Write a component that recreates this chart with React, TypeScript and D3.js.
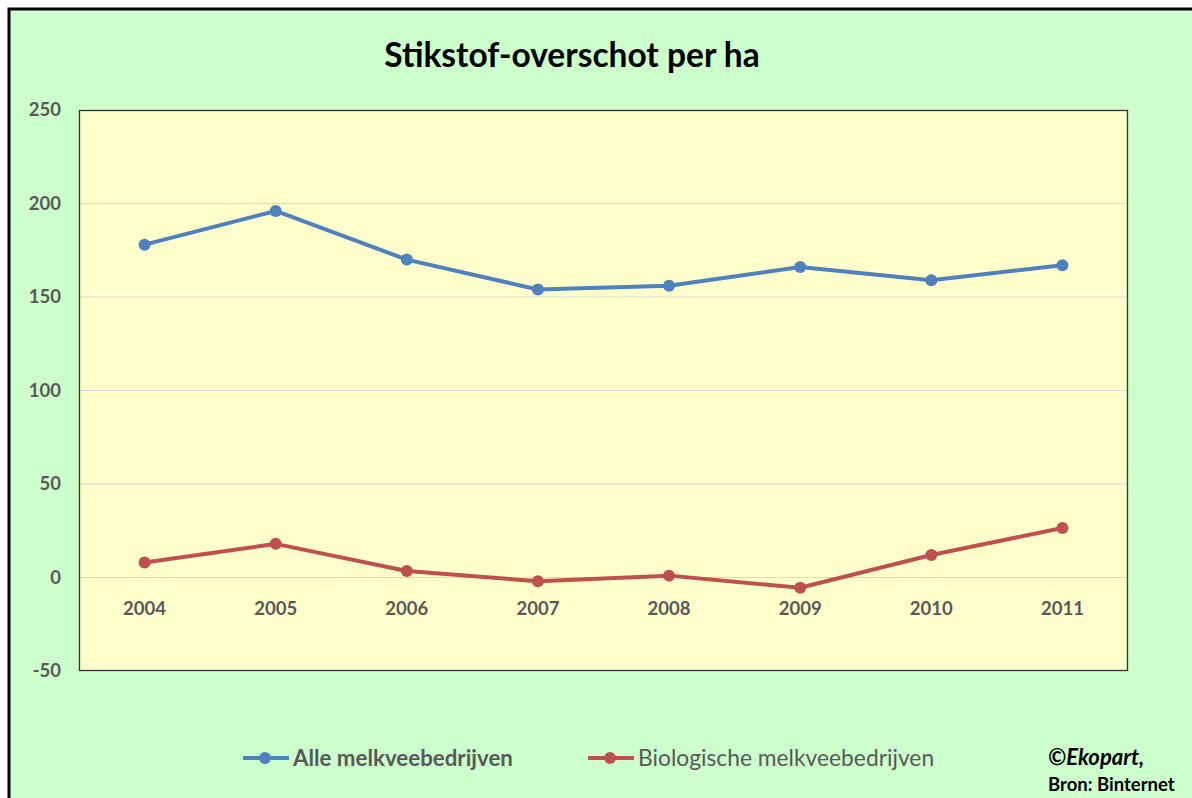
import React, { useEffect, useRef } from 'react';
import * as d3 from 'd3';

const years = ['2004', '2005', '2006', '2007', '2008', '2009', '2010', '2011'];
const alleValues = [178, 196, 170, 154, 156, 166, 159, 167];
const bioValues = [8, 18, 3.5, -2, 1, -5.5, 12, 26.5];
const yTicks = [-50, 0, 50, 100, 150, 200, 250];
const seriesNames = ['Alle melkveebedrijven', 'Biologische melkveebedrijven'];
const seriesColors = ['#4F81BD', '#C0504D'];

const FONT = 'Lato, "Open Sans", sans-serif';

const App = () => {
  const chartRef = useRef(null);

  useEffect(() => {
    const W = 1192;
    const H = 798;
    const plot = { left: 79, top: 110, right: 1128, bottom: 671 };

    d3.select(chartRef.current).selectAll('*').remove();

    const svg = d3
      .select(chartRef.current)
      .append('svg')
      .attr('width', W)
      .attr('height', H)
      .style('display', 'block');

    // outer chart area (clipped on right and bottom)
    svg
      .append('rect')
      .attr('x', 9)
      .attr('y', 9)
      .attr('width', W + 20)
      .attr('height', H + 20)
      .attr('fill', '#CCFFCC')
      .attr('stroke', '#000')
      .attr('stroke-width', 3);

    svg
      .append('text')
      .attr('x', 572)
      .attr('y', 67)
      .attr('text-anchor', 'middle')
      .style('font-size', '33.5px')
      .style('font-family', FONT)
      .style('font-weight', 'bold')
      .style('fill', '#000')
      .text('Stikstof-overschot per ha');

    const x = d3
      .scaleBand()
      .domain(years)
      .range([plot.left, plot.right]);

    const y = d3
      .scaleLinear()
      .domain([-50, 250])
      .range([plot.bottom, plot.top]);

    svg
      .append('rect')
      .attr('x', plot.left)
      .attr('y', plot.top)
      .attr('width', plot.right - plot.left)
      .attr('height', plot.bottom - plot.top)
      .attr('fill', '#FFFFCC');

    // gridlines
    svg
      .append('g')
      .selectAll('line')
      .data(yTicks.filter(t => t !== -50 && t !== 250))
      .enter()
      .append('line')
      .attr('x1', plot.left)
      .attr('x2', plot.right)
      .attr('y1', d => y(d))
      .attr('y2', d => y(d))
      .attr('stroke', '#D9D9D9')
      .attr('stroke-width', 1.2);

    svg
      .append('rect')
      .attr('x', plot.left + 0.5)
      .attr('y', plot.top + 0.5)
      .attr('width', plot.right - plot.left - 1)
      .attr('height', plot.bottom - plot.top - 1)
      .attr('fill', 'none')
      .attr('stroke', '#333')
      .attr('stroke-width', 1.3);

    // y labels
    svg
      .append('g')
      .selectAll('text')
      .data(yTicks)
      .enter()
      .append('text')
      .attr('x', 61)
      .attr('y', d => y(d))
      .attr('dy', '0.35em')
      .attr('text-anchor', 'end')
      .style('font-size', '18.5px')
      .style('font-family', FONT)
      .style('font-weight', 'bold')
      .style('fill', '#595959')
      .text(d => d);

    // x labels
    svg
      .append('g')
      .selectAll('text')
      .data(years)
      .enter()
      .append('text')
      .attr('x', d => x(d) + x.bandwidth() / 2)
      .attr('y', y(0) + 31)
      .attr('dy', '0.35em')
      .attr('text-anchor', 'middle')
      .style('font-size', '18.5px')
      .style('font-family', FONT)
      .style('font-weight', 'bold')
      .style('fill', '#595959')
      .text(d => d);

    const cx = d => x(d) + x.bandwidth() / 2;
    [alleValues, bioValues].forEach((vals, i) => {
      const pts = years.map((yr, j) => [cx(yr), y(vals[j])]);
      svg
        .append('path')
        .attr('d', d3.line()(pts))
        .attr('fill', 'none')
        .attr('stroke', seriesColors[i])
        .attr('stroke-width', 4)
        .attr('stroke-linejoin', 'round');
      svg
        .append('g')
        .selectAll('circle')
        .data(pts)
        .enter()
        .append('circle')
        .attr('cx', d => d[0])
        .attr('cy', d => d[1])
        .attr('r', 6)
        .attr('fill', seriesColors[i]);
    });

    // legend
    const legendX = [243, 588];
    seriesNames.forEach((name, i) => {
      const g = svg.append('g').attr('transform', `translate(${legendX[i]}, 758)`);
      g.append('line')
        .attr('x1', 0)
        .attr('x2', 46)
        .attr('stroke', seriesColors[i])
        .attr('stroke-width', 4);
      g.append('circle').attr('cx', 22).attr('r', 6).attr('fill', seriesColors[i]);
      g.append('text')
        .attr('x', 50)
        .attr('dy', '0.35em')
        .style('font-size', i === 0 ? '22.3px' : '22.8px')
        .style('font-family', FONT)
        .style('font-weight', i === 0 ? 'bold' : 'normal')
        .style('fill', '#595959')
        .text(name);
    });

    svg
      .append('text')
      .attr('x', 1048)
      .attr('y', 765)
      .style('font-size', '22px')
      .style('font-family', FONT)
      .style('font-weight', 'bold')
      .style('font-style', 'italic')
      .style('fill', '#000')
      .text('©Ekopart,');

    svg
      .append('text')
      .attr('x', 1048)
      .attr('y', 791)
      .style('font-size', '18.5px')
      .style('font-family', FONT)
      .style('font-weight', 'bold')
      .style('fill', '#000')
      .text('Bron: Binternet');
  }, []);

  return (
    <div
      ref={chartRef}
      style={{ position: 'fixed', left: 0, top: 0, width: 1192, height: 798, overflow: 'hidden' }}
    ></div>
  );
};

export default App;
